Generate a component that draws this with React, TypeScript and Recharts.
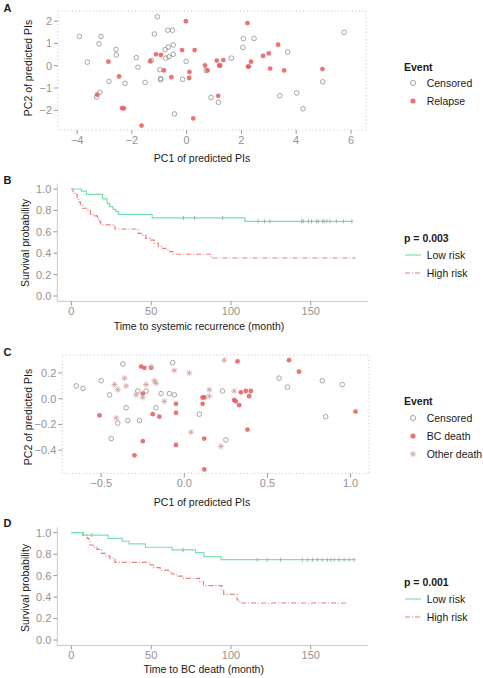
import React from 'react';
import { ScatterChart, Scatter, ComposedChart, Line, XAxis, YAxis, ReferenceArea } from 'recharts';

const FONT = '"Liberation Sans", Arial, Helvetica, sans-serif';
const TICK_GREY = '#939393';
const RED = '#e85a5e';
const GREEN = '#79e0b0';
const DASH_RED = '#e58080';
const ROSY = '#c9a0a0';

// Panel A: PC scores, relapse data
const aCensored = [
  { x: -3.92, y: 1.31 }, { x: -3.63, y: 0.16 }, { x: -3.13, y: 1.31 }, { x: -3.2, y: 0.98 },
  { x: -2.58, y: 0.73 }, { x: -2.57, y: 0.48 }, { x: -2.84, y: -0.7 }, { x: -3.17, y: -1.19 },
  { x: -3.29, y: -1.4 }, { x: -2.25, y: -0.79 }, { x: -1.84, y: 0.36 }, { x: -1.78, y: -0.07 },
  { x: -1.52, y: -0.75 }, { x: -1.29, y: 0.24 }, { x: -1.18, y: 1.42 }, { x: -1.07, y: 2.19 },
  { x: -0.98, y: -0.18 }, { x: -0.95, y: -0.57 }, { x: -0.95, y: -0.63 }, { x: -0.79, y: 0.72 },
  { x: -0.67, y: 0.84 }, { x: -0.49, y: 0.93 }, { x: -0.76, y: 0.34 }, { x: -0.65, y: 0.4 },
  { x: -0.49, y: 0.51 }, { x: -0.69, y: 1.59 }, { x: -0.52, y: 1.59 }, { x: -0.45, y: -2.16 },
  { x: -0.15, y: -0.61 }, { x: -0.02, y: 0.19 }, { x: 0.71, y: -0.22 }, { x: 0.89, y: -1.43 },
  { x: 1.16, y: -1.64 }, { x: 1.63, y: 0.34 }, { x: 2.05, y: 0.82 }, { x: 2.07, y: 1.21 },
  { x: 2.46, y: 1.22 }, { x: 3.69, y: 0.61 }, { x: 3.4, y: -1.34 }, { x: 4.02, y: -1.22 },
  { x: 4.25, y: -1.93 }, { x: 4.97, y: -0.72 }, { x: 5.75, y: 1.49 },
];
const aRelapse = [
  { x: -2.86, y: 0.18 }, { x: -2.47, y: -0.48 }, { x: -3.27, y: -1.3 }, { x: -2.36, y: -1.9 },
  { x: -2.29, y: -1.91 }, { x: -1.65, y: -2.68 }, { x: -1.33, y: 0.2 }, { x: -1.12, y: 0.51 },
  { x: -0.94, y: 0.48 }, { x: -0.83, y: -0.21 }, { x: -0.56, y: -0.51 }, { x: -0.17, y: 0.7 },
  { x: -0.03, y: 1.99 }, { x: 0.29, y: 0.7 }, { x: 0.1, y: -0.28 }, { x: 0.09, y: -0.55 },
  { x: 0.24, y: -2.36 }, { x: 0.67, y: 0.01 }, { x: 0.76, y: -0.21 }, { x: 1.1, y: 0.23 },
  { x: 1.19, y: 0.01 }, { x: 1.22, y: 0.01 }, { x: 1.34, y: 0.25 }, { x: 1.15, y: -1.35 },
  { x: 2.22, y: 1.91 }, { x: 2.24, y: -0.04 }, { x: 2.27, y: -0.04 }, { x: 2.35, y: 0.18 },
  { x: 2.79, y: 0.44 }, { x: 3.0, y: 0.55 }, { x: 3.34, y: 0.94 }, { x: 3.05, y: -0.13 },
  { x: 3.56, y: -0.21 }, { x: 4.96, y: -0.15 },
];
const aXTicks = [-4, -2, 0, 2, 4, 6];
const aYTicks = [-2, -1, 0, 1, 2];

// Panel B: systemic recurrence KM curves
const bLow = [
  { t: 0, s: 1 }, { t: 6.3, s: 0.981 }, { t: 9.4, s: 0.95 }, { t: 19.5, s: 0.907 },
  { t: 22.4, s: 0.866 }, { t: 24, s: 0.835 }, { t: 26.1, s: 0.81 }, { t: 27.8, s: 0.788 },
  { t: 29.5, s: 0.763 }, { t: 50.6, s: 0.73 }, { t: 108.7, s: 0.698 }, { t: 176.5, s: 0.698 },
];
const bHigh = [
  { t: 0, s: 1 }, { t: 1, s: 0.975 }, { t: 2.1, s: 0.95 }, { t: 3.6, s: 0.913 },
  { t: 4.4, s: 0.88 }, { t: 5.6, s: 0.857 }, { t: 6.9, s: 0.82 }, { t: 10.4, s: 0.8 },
  { t: 11.9, s: 0.763 }, { t: 13.6, s: 0.748 }, { t: 16.3, s: 0.717 }, { t: 17.8, s: 0.696 },
  { t: 18.4, s: 0.665 }, { t: 27.2, s: 0.626 }, { t: 41.8, s: 0.586 }, { t: 44.5, s: 0.57 },
  { t: 46.6, s: 0.539 }, { t: 49.1, s: 0.523 }, { t: 51.9, s: 0.492 }, { t: 54.4, s: 0.461 },
  { t: 56.5, s: 0.445 }, { t: 59.2, s: 0.43 }, { t: 61.7, s: 0.414 }, { t: 63.8, s: 0.39 },
  { t: 87.6, s: 0.355 }, { t: 178, s: 0.355 },
];
const bLowCensor = [70.2, 77.1, 94.8, 117, 121, 124.4, 144.3, 145.3, 148.5, 150.5, 153.7, 154.7, 157.5, 158.3, 160, 162, 166, 170.4, 175.7];

// Panel C: PC scores, BC death data
const cCensored = [
  { x: -0.65, y: 0.1 }, { x: -0.61, y: 0.08 }, { x: -0.5, y: 0.14 }, { x: -0.37, y: 0.27 },
  { x: -0.45, y: 0.03 }, { x: -0.28, y: 0.06 }, { x: -0.23, y: 0.06 }, { x: -0.35, y: -0.07 },
  { x: -0.34, y: -0.17 }, { x: -0.4, y: -0.19 }, { x: -0.27, y: -0.17 }, { x: -0.17, y: -0.07 },
  { x: -0.14, y: 0.04 }, { x: -0.09, y: 0.04 }, { x: -0.06, y: 0.03 }, { x: -0.07, y: 0.28 },
  { x: -0.44, y: -0.31 }, { x: 0.09, y: -0.12 }, { x: 0.23, y: 0.06 }, { x: 0.25, y: -0.32 },
  { x: 0.57, y: 0.16 }, { x: 0.62, y: 0.09 }, { x: 0.83, y: 0.14 }, { x: 0.95, y: 0.11 },
  { x: 0.85, y: -0.14 },
];
const cBcDeath = [
  { x: -0.51, y: -0.13 }, { x: -0.3, y: -0.44 }, { x: -0.26, y: 0.25 }, { x: -0.24, y: 0.24 },
  { x: -0.2, y: 0.24 }, { x: -0.25, y: 0.04 }, { x: -0.19, y: -0.12 }, { x: -0.15, y: -0.14 },
  { x: -0.25, y: -0.33 }, { x: -0.05, y: -0.04 }, { x: -0.05, y: -0.11 }, { x: -0.05, y: -0.36 },
  { x: 0.11, y: 0.01 }, { x: 0.12, y: 0.01 }, { x: 0.11, y: -0.04 }, { x: 0.12, y: -0.31 },
  { x: 0.12, y: -0.55 }, { x: 0.32, y: 0.29 }, { x: 0.3, y: -0.01 }, { x: 0.31, y: -0.02 },
  { x: 0.34, y: 0.05 }, { x: 0.33, y: -0.05 }, { x: 0.37, y: 0.06 }, { x: 0.4, y: 0.06 },
  { x: 0.39, y: 0.02 }, { x: 0.38, y: -0.24 }, { x: 0.63, y: 0.3 }, { x: 0.69, y: 0.21 },
  { x: 1.03, y: -0.1 },
];
const cOtherDeath = [
  { x: -0.42, y: 0.11 }, { x: -0.36, y: 0.16 }, { x: -0.35, y: 0.1 }, { x: -0.4, y: 0.07 },
  { x: -0.29, y: 0.03 }, { x: -0.25, y: 0.01 }, { x: -0.23, y: 0.11 }, { x: -0.2, y: 0.25 },
  { x: -0.18, y: 0.14 }, { x: -0.17, y: 0.12 }, { x: -0.12, y: -0.02 }, { x: -0.06, y: 0.22 },
  { x: 0.03, y: 0.2 }, { x: 0.04, y: -0.26 }, { x: 0.15, y: 0.07 }, { x: 0.15, y: 0.02 },
  { x: 0.24, y: 0.3 }, { x: 0.3, y: 0.06 }, { x: 0.22, y: -0.37 }, { x: -0.41, y: -0.15 },
];
const cXTicks = [-0.5, 0, 0.5, 1];
const cYTicks = [-0.4, -0.2, 0, 0.2];

// Panel D: BC death KM curves
const dLow = [
  { t: 0, s: 1 }, { t: 6.9, s: 0.978 }, { t: 23, s: 0.947 }, { t: 31.8, s: 0.92 },
  { t: 36.2, s: 0.895 }, { t: 46.4, s: 0.864 }, { t: 63.1, s: 0.839 }, { t: 77.8, s: 0.814 },
  { t: 83, s: 0.776 }, { t: 93.7, s: 0.748 }, { t: 178, s: 0.748 },
];
const dHigh = [
  { t: 0, s: 1 }, { t: 7.3, s: 0.978 }, { t: 9.9, s: 0.947 }, { t: 11, s: 0.916 },
  { t: 11.5, s: 0.885 }, { t: 13.6, s: 0.863 }, { t: 16.1, s: 0.845 }, { t: 18.9, s: 0.807 },
  { t: 21.6, s: 0.783 }, { t: 24.1, s: 0.761 }, { t: 27.3, s: 0.724 }, { t: 49.3, s: 0.7 },
  { t: 51.4, s: 0.674 }, { t: 55.6, s: 0.652 }, { t: 60.8, s: 0.637 }, { t: 62.9, s: 0.615 },
  { t: 66, s: 0.596 }, { t: 70.2, s: 0.575 }, { t: 80.3, s: 0.543 }, { t: 82.8, s: 0.506 },
  { t: 94.3, s: 0.457 }, { t: 95.4, s: 0.425 }, { t: 103.8, s: 0.373 }, { t: 105.5, s: 0.345 },
  { t: 173, s: 0.345 },
];
const dLowCensor = [12.7, 70, 116.4, 122.6, 131, 144.7, 147.8, 151, 154, 157.2, 160.4, 162.5, 164.6, 167.7, 170.9, 174, 177];

const kmXTicks = [0, 50, 100, 150];
const kmYTicks = [0, 0.2, 0.4, 0.6, 0.8, 1];

// survival value of a step curve at time t, used to sit censor marks on the curve
const stepAt = (curve: { t: number; s: number }[], t: number) => {
  let s = curve[0].s;
  for (const p of curve) if (p.t <= t) s = p.s;
  return s;
};
const marks = (curve: { t: number; s: number }[], times: number[]) =>
  times.map((t) => ({ t, s: stepAt(curve, t) }));

const minus = (s: string) => s.replace('-', '\u2212');
const fmtInt = (v: number) => minus(String(v));
const fmt1 = (v: number) => minus(v.toFixed(1));

const tickStyle = { fill: TICK_GREY, fontSize: 11, fontFamily: FONT };
const tickLine = { stroke: '#9a9a9a' };

const Hollow = (props: any) => (
  <circle cx={props.cx} cy={props.cy} r={2.3} fill="none" stroke="#8f8f8f" strokeWidth={0.8} />
);
const Dot = (props: any) => (
  <circle cx={props.cx} cy={props.cy} r={2.4} fill={RED} fillOpacity={0.85} />
);
const Star = (props: any) => {
  const { cx, cy } = props;
  const r = 3;
  const d = 2.2;
  return (
    <g stroke={ROSY} strokeWidth={0.8}>
      <line x1={cx - r} y1={cy} x2={cx + r} y2={cy} />
      <line x1={cx} y1={cy - r} x2={cx} y2={cy + r} />
      <line x1={cx - d} y1={cy - d} x2={cx + d} y2={cy + d} />
      <line x1={cx - d} y1={cy + d} x2={cx + d} y2={cy - d} />
    </g>
  );
};
const CensorTick = (props: any) => (
  <line x1={props.cx} y1={props.cy - 2} x2={props.cx} y2={props.cy + 2} stroke="#9a9a9a" strokeWidth={0.8} />
);

const Txt = ({ x, y, children, bold = false, center = false, rotate = false, size = 10.5 }: any) => (
  <div
    style={{
      position: 'absolute',
      left: x,
      top: y,
      fontSize: size,
      lineHeight: 1,
      fontWeight: bold ? 'bold' : 'normal',
      color: '#1a1a1a',
      whiteSpace: 'nowrap',
      transform: `translate(${center ? '-50%' : '0'}, -50%)${rotate ? ' rotate(-90deg)' : ''}`,
    }}
  >
    {children}
  </div>
);

const LegendSym = ({ x, y, children }: any) => (
  <svg style={{ position: 'absolute', left: x - 9, top: y - 6 }} width={18} height={12}>
    {children}
  </svg>
);

const PcScatter = ({ top, height, plotTop, plotBottom, plotLeft, plotRight, xDomain, yDomain, xTicks, yTicks, fmt, children }: any) => (
  <div style={{ position: 'absolute', left: 0, top }}>
    <ScatterChart
      width={380}
      height={height}
      margin={{ top: plotTop - top, right: 380 - plotRight, bottom: 0, left: 0 }}
    >
      <XAxis
        type="number"
        dataKey="x"
        domain={xDomain}
        ticks={xTicks}
        allowDataOverflow
        height={top + height - plotBottom}
        axisLine={false}
        tickLine={tickLine}
        tickSize={4}
        tickMargin={2}
        tick={tickStyle}
        tickFormatter={fmt}
      />
      <YAxis
        type="number"
        dataKey="y"
        domain={yDomain}
        ticks={yTicks}
        allowDataOverflow
        width={plotLeft}
        axisLine={false}
        tickLine={tickLine}
        tickSize={4}
        tickMargin={2}
        tick={tickStyle}
        tickFormatter={fmt}
      />
      <ReferenceArea
        x1={xDomain[0]}
        x2={xDomain[1]}
        y1={yDomain[0]}
        y2={yDomain[1]}
        fill="none"
        stroke="#c4c4c4"
        strokeDasharray="1 2.5"
        ifOverflow="visible"
      />
      {children}
    </ScatterChart>
  </div>
);

const KmChart = ({ top, height, plotTop, plotBottom, low, high, lowCensor }: any) => (
  <div style={{ position: 'absolute', left: 0, top }}>
    <ComposedChart
      width={380}
      height={height}
      margin={{ top: plotTop - top, right: 12, bottom: 0, left: 0 }}
    >
      <XAxis
        type="number"
        dataKey="t"
        domain={[-8.85, 185.85]}
        ticks={kmXTicks}
        allowDataOverflow
        height={top + height - plotBottom}
        axisLine={{ stroke: '#c8c8c8' }}
        tickLine={tickLine}
        tickSize={4}
        tickMargin={2}
        tick={tickStyle}
      />
      <YAxis
        type="number"
        dataKey="s"
        domain={[-0.05, 1.05]}
        ticks={kmYTicks}
        allowDataOverflow
        width={57.3}
        axisLine={{ stroke: '#c8c8c8' }}
        tickLine={tickLine}
        tickSize={4}
        tickMargin={2}
        tick={tickStyle}
        tickFormatter={fmt1}
      />
      <Line data={high} dataKey="s" type="stepAfter" stroke={DASH_RED} strokeWidth={1.2} strokeDasharray="5 2 1 2" dot={false} isAnimationActive={false} />
      <Line data={low} dataKey="s" type="stepAfter" stroke={GREEN} strokeWidth={1.2} dot={false} isAnimationActive={false} />
      <Scatter data={marks(low, lowCensor)} dataKey="s" shape={CensorTick} isAnimationActive={false} />
    </ComposedChart>
  </div>
);

const KmLegend = ({ top, p }: any) => (
  <>
    <Txt x={404} y={top} bold>{p}</Txt>
    <LegendSym x={412.7} y={top + 17}>
      <line x1={1} y1={6} x2={17} y2={6} stroke={GREEN} strokeWidth={1.2} />
    </LegendSym>
    <Txt x={426.7} y={top + 17}>Low risk</Txt>
    <LegendSym x={412.7} y={top + 35}>
      <line x1={1} y1={6} x2={17} y2={6} stroke={DASH_RED} strokeWidth={1.2} strokeDasharray="5 2 1 2" />
    </LegendSym>
    <Txt x={426.7} y={top + 35}>High risk</Txt>
  </>
);

export default function App() {
  return (
    <div
      style={{
        position: 'absolute',
        left: 0,
        top: 0,
        width: 483,
        height: 678,
        background: '#fff',
        fontFamily: FONT,
        overflow: 'hidden',
      }}
    >
      <PcScatter
        top={0}
        height={168}
        plotTop={11}
        plotBottom={130}
        plotLeft={58}
        plotRight={366}
        xDomain={[-4.7, 6.55]}
        yDomain={[-2.88, 2.45]}
        xTicks={aXTicks}
        yTicks={aYTicks}
        fmt={fmtInt}
      >
        <Scatter data={aCensored} shape={Hollow} isAnimationActive={false} />
        <Scatter data={aRelapse} shape={Dot} isAnimationActive={false} />
      </PcScatter>

      <KmChart top={170} height={150} plotTop={183.65} plotBottom={301.35} low={bLow} high={bHigh} lowCensor={bLowCensor} />

      <PcScatter
        top={340}
        height={155}
        plotTop={355}
        plotBottom={473.3}
        plotLeft={62.3}
        plotRight={369}
        xDomain={[-0.734, 1.111]}
        yDomain={[-0.58, 0.34]}
        xTicks={cXTicks}
        yTicks={cYTicks}
        fmt={fmt1}
      >
        <Scatter data={cCensored} shape={Hollow} isAnimationActive={false} />
        <Scatter data={cBcDeath} shape={Dot} isAnimationActive={false} />
        <Scatter data={cOtherDeath} shape={Star} isAnimationActive={false} />
      </PcScatter>

      <KmChart top={512} height={155} plotTop={527.3} plotBottom={645.4} low={dLow} high={dHigh} lowCensor={dLowCensor} />

      {/* panel letters */}
      <Txt x={3.5} y={7.5} bold size={11}>A</Txt>
      <Txt x={3.5} y={180} bold size={11}>B</Txt>
      <Txt x={3.5} y={351.7} bold size={11}>C</Txt>
      <Txt x={3.5} y={523.3} bold size={11}>D</Txt>

      {/* axis titles */}
      <Txt x={202} y={158} center>PC1 of predicted PIs</Txt>
      <Txt x={27.7} y={68} center rotate>PC2 of predicted PIs</Txt>
      <Txt x={199} y={326} center>Time to systemic recurrence (month)</Txt>
      <Txt x={25} y={243} center rotate>Survival probability</Txt>
      <Txt x={202} y={501.7} center>PC1 of predicted PIs</Txt>
      <Txt x={28} y={416.5} center rotate>PC2 of predicted PIs</Txt>
      <Txt x={203.7} y={669.3} center>Time to BC death (month)</Txt>
      <Txt x={25} y={587.7} center rotate>Survival probability</Txt>

      {/* legend A */}
      <Txt x={404} y={66.7} bold>Event</Txt>
      <LegendSym x={412.7} y={83}>
        <circle cx={9} cy={6} r={2.6} fill="none" stroke="#8f8f8f" strokeWidth={0.8} />
      </LegendSym>
      <Txt x={426.7} y={83}>Censored</Txt>
      <LegendSym x={412.7} y={101}>
        <circle cx={9} cy={6} r={2.6} fill={RED} fillOpacity={0.85} />
      </LegendSym>
      <Txt x={426.7} y={101}>Relapse</Txt>

      <KmLegend top={238} p="p = 0.003" />

      {/* legend C */}
      <Txt x={404} y={401} bold>Event</Txt>
      <LegendSym x={412.7} y={417.7}>
        <circle cx={9} cy={6} r={2.6} fill="none" stroke="#8f8f8f" strokeWidth={0.8} />
      </LegendSym>
      <Txt x={426.7} y={417.7}>Censored</Txt>
      <LegendSym x={412.7} y={436}>
        <circle cx={9} cy={6} r={2.6} fill={RED} fillOpacity={0.85} />
      </LegendSym>
      <Txt x={426.7} y={436}>BC death</Txt>
      <LegendSym x={412.7} y={454}>
        <Star cx={9} cy={6} />
      </LegendSym>
      <Txt x={426.7} y={454}>Other death</Txt>

      <KmLegend top={582} p="p = 0.001" />
    </div>
  );
}
